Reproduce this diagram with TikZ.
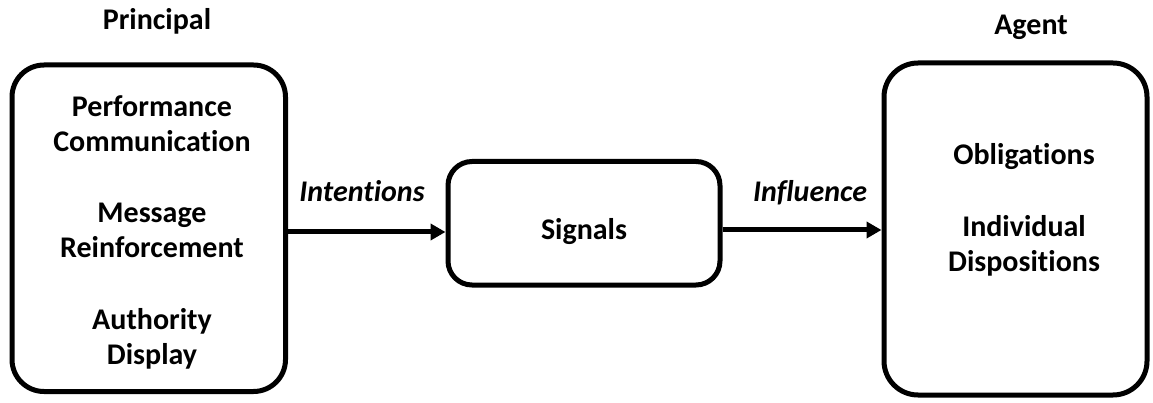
\documentclass[tikz,border=0pt]{standalone}
\usepackage{fontspec}
\setmainfont[Ligatures=NoCommon]{Carlito}
\usetikzlibrary{arrows.meta}
\begin{document}
\begin{tikzpicture}[x=1pt,y=-1pt,
  box/.style={draw=black,line width=5pt,rectangle,inner sep=0pt},
  lbl/.style={font=\fontsize{30}{36}\selectfont\bfseries,anchor=base,inner sep=0pt},
  arrowlbl/.style={font=\fontsize{30}{36}\selectfont\bfseries\itshape,anchor=base,inner sep=0pt},
  flow/.style={line width=5pt,-{Triangle[length=15pt,width=16pt]}}]
\useasboundingbox (0,0) rectangle (1153,403);

% boxes
\node[box,rounded corners=32pt,minimum width=273.5pt,minimum height=326.5pt] (principal) at (148.75,228.25) {};
\node[box,rounded corners=24pt,minimum width=272pt,minimum height=123.5pt] (signals) at (584,223.25) {};
\node[box,rounded corners=34pt,minimum width=263pt,minimum height=332pt] (agent) at (1015.5,229) {};

% headings
\node[lbl] (tp) at (157,30) {Principal};
\node[lbl] (ta) at (1031,35) {Agent};

% principal contents
\node[lbl] (p1) at (152,117) {Performance};
\node[lbl] (p2) at (152,152) {Communication};
\node[lbl] (p3) at (152,223) {Message};
\node[lbl] (p4) at (152,258) {Reinforcement};
\node[lbl] (p5) at (152,329) {Authority};
\node[lbl] (p6) at (152,364) {Display};

% signals contents
\node[lbl] (s1) at (584,240) {Signals};

% agent contents
\node[lbl] (a1) at (1024,165) {Obligations};
\node[lbl] (a2) at (1024,237) {Individual};
\node[lbl] (a3) at (1024,272) {Dispositions};

% connectors
\coordinate (c1) at (principal.east |- 0,232);
\coordinate (c2) at (signals.west |- 0,232);
\coordinate (c3) at (signals.east |- 0,230);
\coordinate (c4) at (agent.west |- 0,230);
\draw[flow] (c1) -- (c2);
\draw[flow] (c3) -- (c4);
\node[arrowlbl] (li) at (362,202) {Intentions};
\node[arrowlbl] (lf) at (810,202) {Influence};
\end{tikzpicture}
\end{document}
